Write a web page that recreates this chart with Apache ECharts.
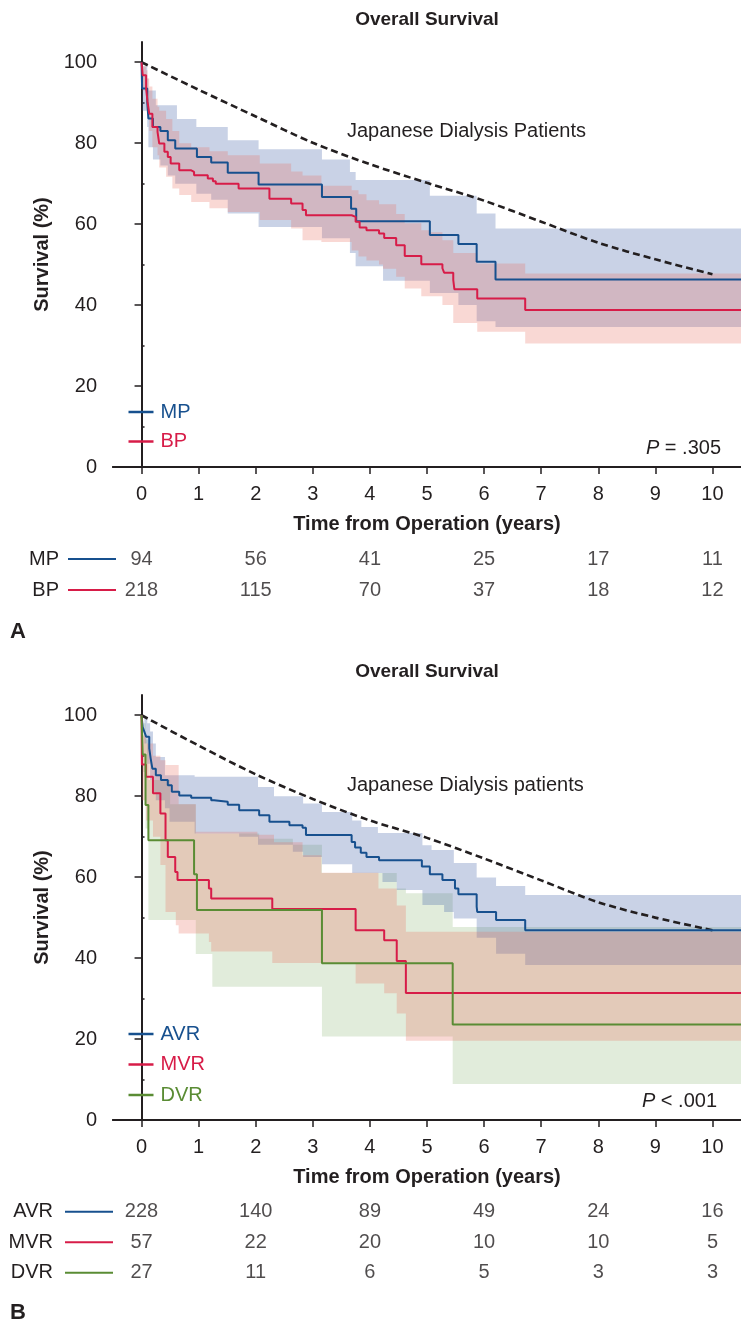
<!DOCTYPE html>
<html><head><meta charset="utf-8">
<script src="https://cdn.jsdelivr.net/npm/echarts@6/dist/echarts.min.js"></script>
<style>html,body{margin:0;padding:0;background:#fff}#c{width:741px;height:1325px}</style>
</head><body><div id="c"></div><script>
// ---------- Panel A data ----------
const mpT = [0, 0.01, 0.1, 0.12, 0.2, 0.33, 0.46, 0.59, 0.97, 1.22, 1.51, 2.05, 3.16, 3.67, 3.76, 5.05, 5.55, 5.87, 6.2, 10.5];
const mpS = [100, 93.5, 90, 86.1, 84.0, 83.0, 80.7, 78.7, 76.6, 75.2, 72.7, 69.8, 66.7, 63.8, 60.7, 57.3, 55.1, 50.7, 46.3, 46.3];
const bpT = [0, 0.02, 0.08, 0.105, 0.135, 0.19, 0.28, 0.31, 0.40, 0.46, 0.51, 0.66, 0.87, 0.92, 1.16, 1.25, 1.30, 1.70, 2.24, 2.62, 2.82, 2.88, 3.68, 3.75, 3.82, 3.94, 4.16, 4.25, 4.46, 4.61, 4.90, 5.27, 5.30, 5.46, 5.48, 5.88, 6.72, 10.5];
const bpS = [100, 96.8, 93.5, 90.2, 87.3, 84.0, 82.8, 79.9, 77.9, 76.6, 75.0, 73.3, 72.9, 72.1, 71.3, 70.6, 70.0, 68.8, 66.3, 65.1, 63.5, 62.2, 61.8, 60.6, 59.2, 58.5, 57.7, 56.6, 54.8, 52.1, 50.1, 49.1, 48.0, 46.2, 43.9, 41.6, 38.8, 38.8];
const mpBandT = [0, 0.01, 0.1, 0.12, 0.2, 0.25, 0.33, 0.46, 0.59, 0.62, 0.96, 1.22, 1.51, 2.05, 3.16, 3.65, 3.75, 4.23, 5.05, 5.55, 5.87, 6.2, 10.5];
const mpLo = [100, 88, 84, 79, 76, 76, 74.5, 72, 70, 70, 67.5, 66, 62.6, 59.3, 56.5, 52.9, 49.6, 46, 43, 40, 36, 34.6, 34.6];
const mpHi = [100, 99, 96, 93, 93, 89.4, 89.4, 89.4, 89.4, 86, 84, 84, 80.7, 78.5, 76, 72.9, 70.9, 70.9, 67, 67, 62.6, 58.9, 58.9];
const bpBandT = [0, 0.02, 0.08, 0.105, 0.135, 0.19, 0.28, 0.31, 0.43, 0.54, 0.66, 0.87, 1.19, 1.51, 2.07, 2.62, 2.82, 3.15, 3.68, 3.8, 3.94, 4.16, 4.23, 4.46, 4.61, 4.9, 5.05, 5.27, 5.46, 5.88, 6.72, 10.5];
const bpLo = [100, 93, 90, 86, 83, 79, 77, 74, 71.7, 68.8, 67.2, 65.5, 63.9, 63.0, 61.0, 58.9, 56, 55.6, 53.5, 52, 51, 50, 49, 47, 44.1, 42.2, 42.2, 40, 35.6, 33.4, 30.5, 30.5];
const bpHi = [100, 99, 98, 96, 94, 91, 89, 88, 86, 83, 80, 79, 78, 77, 75, 73, 72, 69.5, 68.4, 67.4, 65.9, 64.9, 64.9, 62.5, 60.2, 58.5, 58, 56, 52.9, 50.3, 47.8, 47.8];
const refYears = [0, 1, 2, 3, 4, 5, 6, 7, 8, 9, 10];
const refA = [100, 93.2, 86.6, 80.1, 74.8, 70.2, 65.8, 60.6, 55.4, 51.3, 47.6];
// ---------- Panel B data ----------
const avrT = [0, 0.02, 0.05, 0.08, 0.135, 0.16, 0.19, 0.25, 0.34, 0.46, 0.53, 0.66, 0.87, 1.22, 1.27, 1.51, 1.71, 2.06, 2.24, 2.59, 2.82, 2.88, 3.68, 3.74, 3.84, 3.94, 4.16, 4.91, 5.05, 5.27, 5.49, 5.55, 5.87, 5.88, 6.21, 6.72, 10.5];
const avrS = [100, 97.1, 95.9, 94.7, 91.8, 89.3, 86.8, 85.2, 84.0, 82.7, 81.1, 80.2, 79.6, 79.0, 78.6, 77.9, 76.5, 75.3, 73.7, 72.8, 72.2, 70.4, 68.7, 67.3, 66.0, 65.0, 64.2, 62.6, 60.7, 59.3, 57.2, 55.8, 52.7, 51.4, 49.4, 46.9, 46.9];
const mvrT = [0, 0.006, 0.076, 0.2, 0.33, 0.42, 0.46, 0.59, 0.63, 1.18, 1.22, 2.29, 3.75, 4.25, 4.47, 4.63, 10.5];
const mvrS = [100, 87.8, 84.8, 80.7, 75.7, 69.1, 65.0, 61.3, 59.3, 57.2, 54.7, 52.1, 46.9, 44.4, 39.3, 31.4, 31.4];
const dvrT = [0, 0.02, 0.07, 0.12, 0.92, 0.97, 3.16, 5.45, 10.5];
const dvrS = [100, 90.3, 77.8, 69.1, 60.7, 51.9, 38.7, 23.6, 23.6];
const avrBandT = [0, 0.05, 0.1, 0.15, 0.2, 0.25, 0.41, 0.49, 0.93, 1.71, 2.04, 2.32, 2.65, 2.83, 3.16, 3.69, 3.85, 4.14, 4.22, 4.47, 4.92, 5.08, 5.3, 5.47, 5.87, 6.21, 6.72, 10.5];
const avrLo = [100, 93, 88, 84, 81, 79, 77, 73.7, 70.8, 70.0, 68, 68, 66.3, 65, 63.2, 61, 61, 61, 58.8, 56.8, 53.1, 53.1, 51.4, 49.8, 45, 41.1, 38.3, 38.3];
const avrHi = [100, 99.5, 98, 96, 93, 89.7, 85.2, 85.2, 84.8, 84.8, 82.3, 80, 80, 78.2, 76.1, 74, 72.4, 70.9, 70.9, 70.9, 67.9, 66.7, 66.7, 63.5, 59.9, 57.8, 55.6, 55.6];
const mvrBandT = [0, 0.006, 0.08, 0.2, 0.33, 0.42, 0.6, 0.65, 0.95, 1.18, 1.22, 2.03, 2.29, 2.32, 2.82, 3.15, 3.75, 4.15, 4.25, 4.47, 4.63, 10.5];
const mvrLo = [100, 79, 74, 70, 63, 51.4, 48.1, 46.1, 46.1, 44, 41.6, 41.6, 38.8, 38.8, 38.8, 38.8, 33.7, 33.7, 31.3, 26.3, 19.6, 19.6];
const mvrHi = [100, 95, 93, 90, 88.9, 87.7, 87.7, 78, 71.2, 71.2, 71.2, 70.5, 70.5, 68.6, 65.4, 61.1, 61.1, 57.2, 57.2, 53, 46.5, 46.5];
const dvrBandT = [0, 0.03, 0.07, 0.12, 0.5, 0.95, 1.24, 2.06, 2.65, 3.16, 4.47, 4.63, 5.45, 10.5];
const dvrLo = [100, 86, 72, 49.4, 49.4, 41, 32.9, 32.9, 32.9, 20.6, 20.6, 20.6, 8.9, 8.9];
const dvrHi = [100, 98, 94, 84, 78, 70.8, 70.8, 69.5, 68, 61, 57.2, 56, 47.7, 47.7];
const refB = [100, 92.5, 85.4, 79.3, 74.0, 69.7, 64.6, 59.2, 53.8, 50.0, 46.9];
// ---------- ticks & risk tables ----------
const xTicks = [0, 1, 2, 3, 4, 5, 6, 7, 8, 9, 10];
const yTicks = [0, 20, 40, 60, 80, 100];
const yMinor = [10, 30, 50, 70, 90];
const riskT = [0, 2, 4, 6, 8, 10];
const groupsA = ['MP', 'BP'];
const riskA = { MP: [94, 56, 41, 25, 17, 11], BP: [218, 115, 70, 37, 18, 12] };
const groupsB = ['AVR', 'MVR', 'DVR'];
const riskB = { AVR: [228, 140, 89, 49, 24, 16], MVR: [57, 22, 20, 10, 10, 5], DVR: [27, 11, 6, 5, 3, 3] };

const FONT = "'Liberation Sans', Arial, Helvetica, sans-serif";
const INK = '#231f20';
const BLUE = '#17508e', RED = '#d71c48', GREEN = '#5a8c34';
const BLUE_BAND = 'rgba(61,92,166,0.28)', RED_BAND = 'rgba(232,110,95,0.27)', GREEN_BAND = 'rgba(120,170,90,0.22)';

function zip(t, v) { return t.map((x, i) => [x, v[i]]); }
// confidence band drawn as one stepped polygon through the axis scales
function band(name, t, lo, hi, color, xi, yi) {
  return { name: name, type: 'custom', xAxisIndex: xi, yAxisIndex: yi, silent: true, z: 1,
    data: t.map((x, i) => [x, lo[i], hi[i]]),
    renderItem: (params, api) => {
      if (params.dataIndex !== 0) return null;
      const pts = [];
      for (let i = 0; i < t.length - 1; i++) { pts.push(api.coord([t[i], hi[i]])); pts.push(api.coord([t[i + 1], hi[i]])); }
      for (let i = t.length - 2; i >= 0; i--) { pts.push(api.coord([t[i + 1], lo[i]])); pts.push(api.coord([t[i], lo[i]])); }
      return { type: 'polygon', shape: { points: pts }, style: { fill: color } };
    } };
}
function km(name, t, s, color, xi, yi) {
  return { name: name, type: 'line', xAxisIndex: xi, yAxisIndex: yi, step: 'end', symbol: 'none', data: zip(t, s),
    lineStyle: { color: color, width: 2 }, itemStyle: { color: color }, z: 5 };
}
function ref(vals, xi, yi) {
  return { name: 'ref' + xi, type: 'line', xAxisIndex: xi, yAxisIndex: yi, symbol: 'none', smooth: 0.3, data: zip(refYears, vals),
    lineStyle: { color: INK, width: 2.6, type: [7, 4] }, z: 4, silent: true };
}
function risk(groups, table, xi, yi) {
  const out = [];
  groups.forEach(g => {
    out.push({ name: 'risk' + g, type: 'scatter', xAxisIndex: xi, yAxisIndex: yi, symbolSize: 0, silent: true,
      data: riskT.map((t, i) => [t, g, table[g][i]]),
      label: { show: true, position: 'inside', formatter: p => String(p.value[2]), fontSize: 20, color: INK, fontFamily: FONT } });
  });
  return out;
}
const textBase = { fontFamily: FONT, fontSize: 20, color: INK };
function mainX(grid) {
  return { type: 'value', gridIndex: grid, min: -0.5, max: 10.5, position: 'bottom',
    axisLine: { lineStyle: { color: INK, width: 2 } },
    axisTick: { customValues: xTicks, length: 7, lineStyle: { color: INK, width: 1.5 } },
    axisLabel: { customValues: xTicks, margin: 17, ...textBase },
    splitLine: { show: false },
    name: 'Time from Operation (years)', nameLocation: 'middle', nameGap: 47,
    nameTextStyle: { ...textBase, fontWeight: 'bold' } };
}
function topX(grid) {
  return { type: 'value', gridIndex: grid, min: -0.5, max: 10.5, position: 'top',
    axisLine: { lineStyle: { color: INK, width: 2 } }, axisTick: { show: false }, axisLabel: { show: false }, splitLine: { show: false } };
}
function mainY(grid) {
  return { type: 'value', gridIndex: grid, min: 0, max: 105,
    axisLine: { show: true, lineStyle: { color: INK, width: 2 } },
    axisTick: { show: true, customValues: yTicks, length: 7, lineStyle: { color: INK, width: 1.5 } },
    axisLabel: { customValues: yTicks, margin: 16, ...textBase },
    splitLine: { show: false },
    name: 'Survival (%)', nameLocation: 'middle', nameGap: 58,
    nameTextStyle: { ...textBase, fontWeight: 'bold' } };
}
function minorY(grid) {
  return { type: 'value', gridIndex: grid, min: 0, max: 105, axisLine: { show: false },
    axisTick: { show: true, customValues: yMinor, length: 3, lineStyle: { color: INK, width: 1.5 } },
    axisLabel: { show: false }, splitLine: { show: false } };
}
function riskY(grid, groups, colors, gap, margin) {
  const rich = { n: { ...textBase }, sp: { width: gap } };
  colors.forEach((c, i) => { rich['l' + i] = { width: 48, height: 2, backgroundColor: c }; });
  return { type: 'category', gridIndex: grid, data: groups, inverse: true,
    axisLine: { show: false }, axisTick: { show: false }, splitLine: { show: false },
    axisLabel: { margin: margin, formatter: (v, i) => '{n|' + v + '}{sp| }{l' + i + '| }', rich: rich } };
}
function hiddenX(grid) {
  return { type: 'value', gridIndex: grid, min: -0.5, max: 10.5, show: false };
}
function txt(x, y, text, opts) {
  return { type: 'text', x: x, y: y, silent: true,
    style: Object.assign({ text: text, fill: INK, fontFamily: FONT, fontSize: 20, align: 'left', verticalAlign: 'middle' }, opts || {}) };
}

const option = {
  animation: false,
  backgroundColor: '#fff',
  grid: [
    { left: 113, top: 42, width: 628, height: 425 },
    { left: 113, top: 695, width: 628, height: 425 },
    { left: 113, top: 543.5, width: 628, height: 62 },
    { left: 113, top: 1196.5, width: 628, height: 91.5 }
  ],
  xAxis: [mainX(0), topX(0), mainX(1), topX(1), hiddenX(2), hiddenX(3)],
  yAxis: [mainY(0), minorY(0), mainY(1), minorY(1),
    riskY(2, groupsA, [BLUE, RED], 9, -3), riskY(3, groupsB, [BLUE, RED, GREEN], 12, 0)],
  legend: [
    { data: [{ name: 'MP', textStyle: { color: BLUE } }, { name: 'BP', textStyle: { color: RED } }],
      orient: 'vertical', left: 123.5, top: 397, icon: 'rect', itemWidth: 25, itemHeight: 2.5, itemGap: 9.5,
      selectedMode: false, textStyle: { fontSize: 20, fontFamily: FONT, lineHeight: 20, padding: [0, 0, 0, 2] } },
    { data: [{ name: 'AVR', textStyle: { color: BLUE } }, { name: 'MVR', textStyle: { color: RED } }, { name: 'DVR', textStyle: { color: GREEN } }],
      orient: 'vertical', left: 123.5, top: 1019, icon: 'rect', itemWidth: 25, itemHeight: 2.5, itemGap: 10.5,
      selectedMode: false, textStyle: { fontSize: 20, fontFamily: FONT, lineHeight: 20, padding: [0, 0, 0, 2] } }
  ],
  graphic: [
    txt(427, 20, 'Overall Survival', { align: 'center', fontWeight: 'bold', fontSize: 19 }),
    txt(427, 672, 'Overall Survival', { align: 'center', fontWeight: 'bold', fontSize: 19 }),
    txt(347, 131, 'Japanese Dialysis Patients', {}),
    txt(347, 785, 'Japanese Dialysis patients', {}),
    txt(721, 448, '{i|P} = .305', { align: 'right', rich: { i: { fontStyle: 'italic', fontFamily: FONT, fontSize: 20, fill: INK } } }),
    txt(717, 1101, '{i|P} < .001', { align: 'right', rich: { i: { fontStyle: 'italic', fontFamily: FONT, fontSize: 20, fill: INK } } }),
    txt(10, 632, 'A', { fontWeight: 'bold', fontSize: 22 }),
    txt(10, 1313, 'B', { fontWeight: 'bold', fontSize: 22 })
  ],
  series: [
    band('mpBand', mpBandT, mpLo, mpHi, BLUE_BAND, 0, 0),
    band('bpBand', bpBandT, bpLo, bpHi, RED_BAND, 0, 0),
    ref(refA, 0, 0),
    km('MP', mpT, mpS, BLUE, 0, 0),
    km('BP', bpT, bpS, RED, 0, 0),
    band('dvrBand', dvrBandT, dvrLo, dvrHi, GREEN_BAND, 2, 2),
    band('avrBand', avrBandT, avrLo, avrHi, BLUE_BAND, 2, 2),
    band('mvrBand', mvrBandT, mvrLo, mvrHi, RED_BAND, 2, 2),
    ref(refB, 2, 2),
    km('AVR', avrT, avrS, BLUE, 2, 2),
    km('MVR', mvrT, mvrS, RED, 2, 2),
    km('DVR', dvrT, dvrS, GREEN, 2, 2),
    ...risk(groupsA, riskA, 4, 4),
    ...risk(groupsB, riskB, 5, 5)
  ]
};
const chart = echarts.init(document.getElementById('c'), null, { renderer: 'canvas' });
chart.setOption(option);
</script></body></html>
